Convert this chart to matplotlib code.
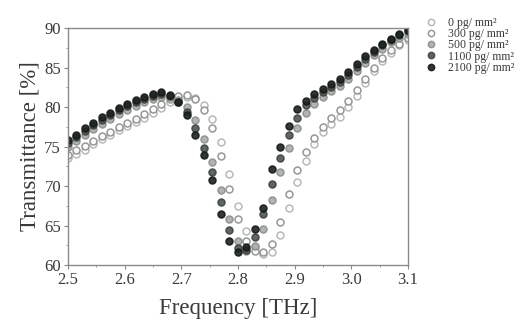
import matplotlib

matplotlib.use("Agg")
import matplotlib.pyplot as plt
from matplotlib.ticker import MultipleLocator

# Frequency grid of the measurement (THz)
freq = [2.500, 2.515, 2.530, 2.545, 2.560, 2.575, 2.590, 2.605, 2.620, 2.635,
        2.650, 2.665, 2.680, 2.695, 2.710, 2.725, 2.740, 2.755, 2.770, 2.785,
        2.800, 2.815, 2.830, 2.845, 2.860, 2.875, 2.890, 2.905, 2.920, 2.935,
        2.950, 2.965, 2.980, 2.995, 3.010, 3.025, 3.040, 3.055, 3.070, 3.085,
        3.100]

# Transmittance [%] per analyte surface density
t_0 = [73.5, 74.0, 74.6, 75.3, 75.9, 76.5, 77.1, 77.6, 78.1, 78.6,
       79.2, 79.9, 80.6, 81.1, 81.3, 81.2, 80.3, 78.5, 75.6, 71.5,
       67.5, 64.3, 62.3, 61.4, 61.6, 63.8, 67.2, 70.5, 73.2, 75.3,
       76.8, 77.9, 78.8, 80.0, 81.4, 83.0, 84.5, 85.8, 86.9, 87.8,
       88.5]
t_300 = [73.9, 74.5, 75.1, 75.7, 76.3, 76.9, 77.5, 78.0, 78.5, 79.1,
         79.7, 80.4, 81.0, 81.4, 81.5, 81.0, 79.6, 77.3, 73.8, 69.6,
         65.8, 63.0, 61.8, 61.6, 62.6, 65.5, 69.0, 72.0, 74.3, 76.1,
         77.5, 78.6, 79.6, 80.8, 82.1, 83.6, 85.0, 86.2, 87.2, 88.0,
         88.7]
t_500 = [75.0, 75.7, 76.5, 77.2, 77.9, 78.5, 79.1, 79.6, 80.1, 80.6,
         81.0, 81.3, 81.3, 80.9, 80.0, 78.3, 76.0, 73.0, 69.5, 65.8,
         63.0, 61.8, 62.4, 64.6, 68.2, 71.8, 74.8, 77.3, 79.2, 80.4,
         81.3, 82.0, 82.7, 83.6, 84.6, 85.6, 86.6, 87.4, 88.2, 88.8,
         89.3]
t_1100 = [75.5, 76.2, 77.0, 77.7, 78.4, 79.0, 79.6, 80.1, 80.6, 81.0,
          81.4, 81.6, 81.4, 80.7, 79.4, 77.3, 74.8, 71.8, 68.0, 64.4,
          62.2, 61.9, 63.6, 66.4, 70.3, 73.6, 76.4, 78.6, 80.2, 81.2,
          81.9, 82.5, 83.2, 84.1, 85.1, 86.1, 87.0, 87.8, 88.5, 89.1,
          89.6]
t_2100 = [75.8, 76.5, 77.4, 78.0, 78.7, 79.3, 79.9, 80.4, 80.9, 81.3,
          81.7, 81.9, 81.5, 80.6, 79.0, 76.5, 73.9, 70.8, 66.5, 63.0,
          61.6, 62.3, 64.6, 67.2, 72.2, 75.0, 77.6, 79.8, 80.8, 81.6,
          82.3, 82.9, 83.5, 84.4, 85.4, 86.4, 87.2, 88.0, 88.6, 89.2,
          89.7]

labels = ["0 pg/ mm²", "300 pg/ mm²", "500 pg/ mm²",
          "1100 pg/ mm²", "2100 pg/ mm²"]

FACES = ["white", "white", "#a9aca9", "#4f5651", "#1c231f"]
EDGES = ["#b0b2b0", "#8a8d8a", "#8c8f8c", "#3e4540", "#151a17"]
SPINE = "#8a8a8a"
INK = "#3a3a3a"

plt.rcParams["font.family"] = ["Liberation Serif", "DejaVu Serif"]

fig = plt.figure(figsize=(5.25, 3.26), dpi=100)
ax = fig.add_axes([0.1295, 0.187, 0.6475, 0.727])

series = [t_0, t_300, t_500, t_1100, t_2100]
for vals, lab, fc, ec in zip(series, labels, FACES, EDGES):
    ax.plot(freq, vals, linestyle="none", marker="o", markersize=5.0,
            markerfacecolor=fc, markeredgecolor=ec, markeredgewidth=1.1,
            label=lab, alpha=0.9)

ax.set_xlim(2.5, 3.1)
ax.set_ylim(60, 90)
ax.xaxis.set_minor_locator(MultipleLocator(0.05))
ax.yaxis.set_major_locator(MultipleLocator(5))
ax.yaxis.set_minor_locator(MultipleLocator(2.5))
ax.set_xticks([2.5, 2.6, 2.7, 2.8, 2.9, 3.0, 3.1],
              labels=["2.5", "2.6", "2.7", "2.8", "2.9", "3.0", "3.1"])
ax.tick_params(which="major", direction="out", length=3, width=0.8,
               color=SPINE, labelsize=12, labelcolor=INK, pad=2)
ax.tick_params(which="minor", direction="out", length=1.5, width=0.6,
               color=SPINE)
for spine in ax.spines.values():
    spine.set_color(SPINE)
    spine.set_linewidth(1.0)

ax.set_xlabel("Frequency [THz]", fontsize=16.5, color=INK, labelpad=7)
ax.set_ylabel("Transmittance [%]", fontsize=16.5, color=INK, labelpad=3)

ax.legend(loc="upper left", bbox_to_anchor=(0.799, 0.966),
          bbox_transform=fig.transFigure, frameon=False, fontsize=8.5,
          labelspacing=-0.07, handletextpad=1.0, handlelength=0.9,
          borderpad=0, markerscale=0.9, labelcolor=INK)

fig.savefig("out.png", dpi=100)
